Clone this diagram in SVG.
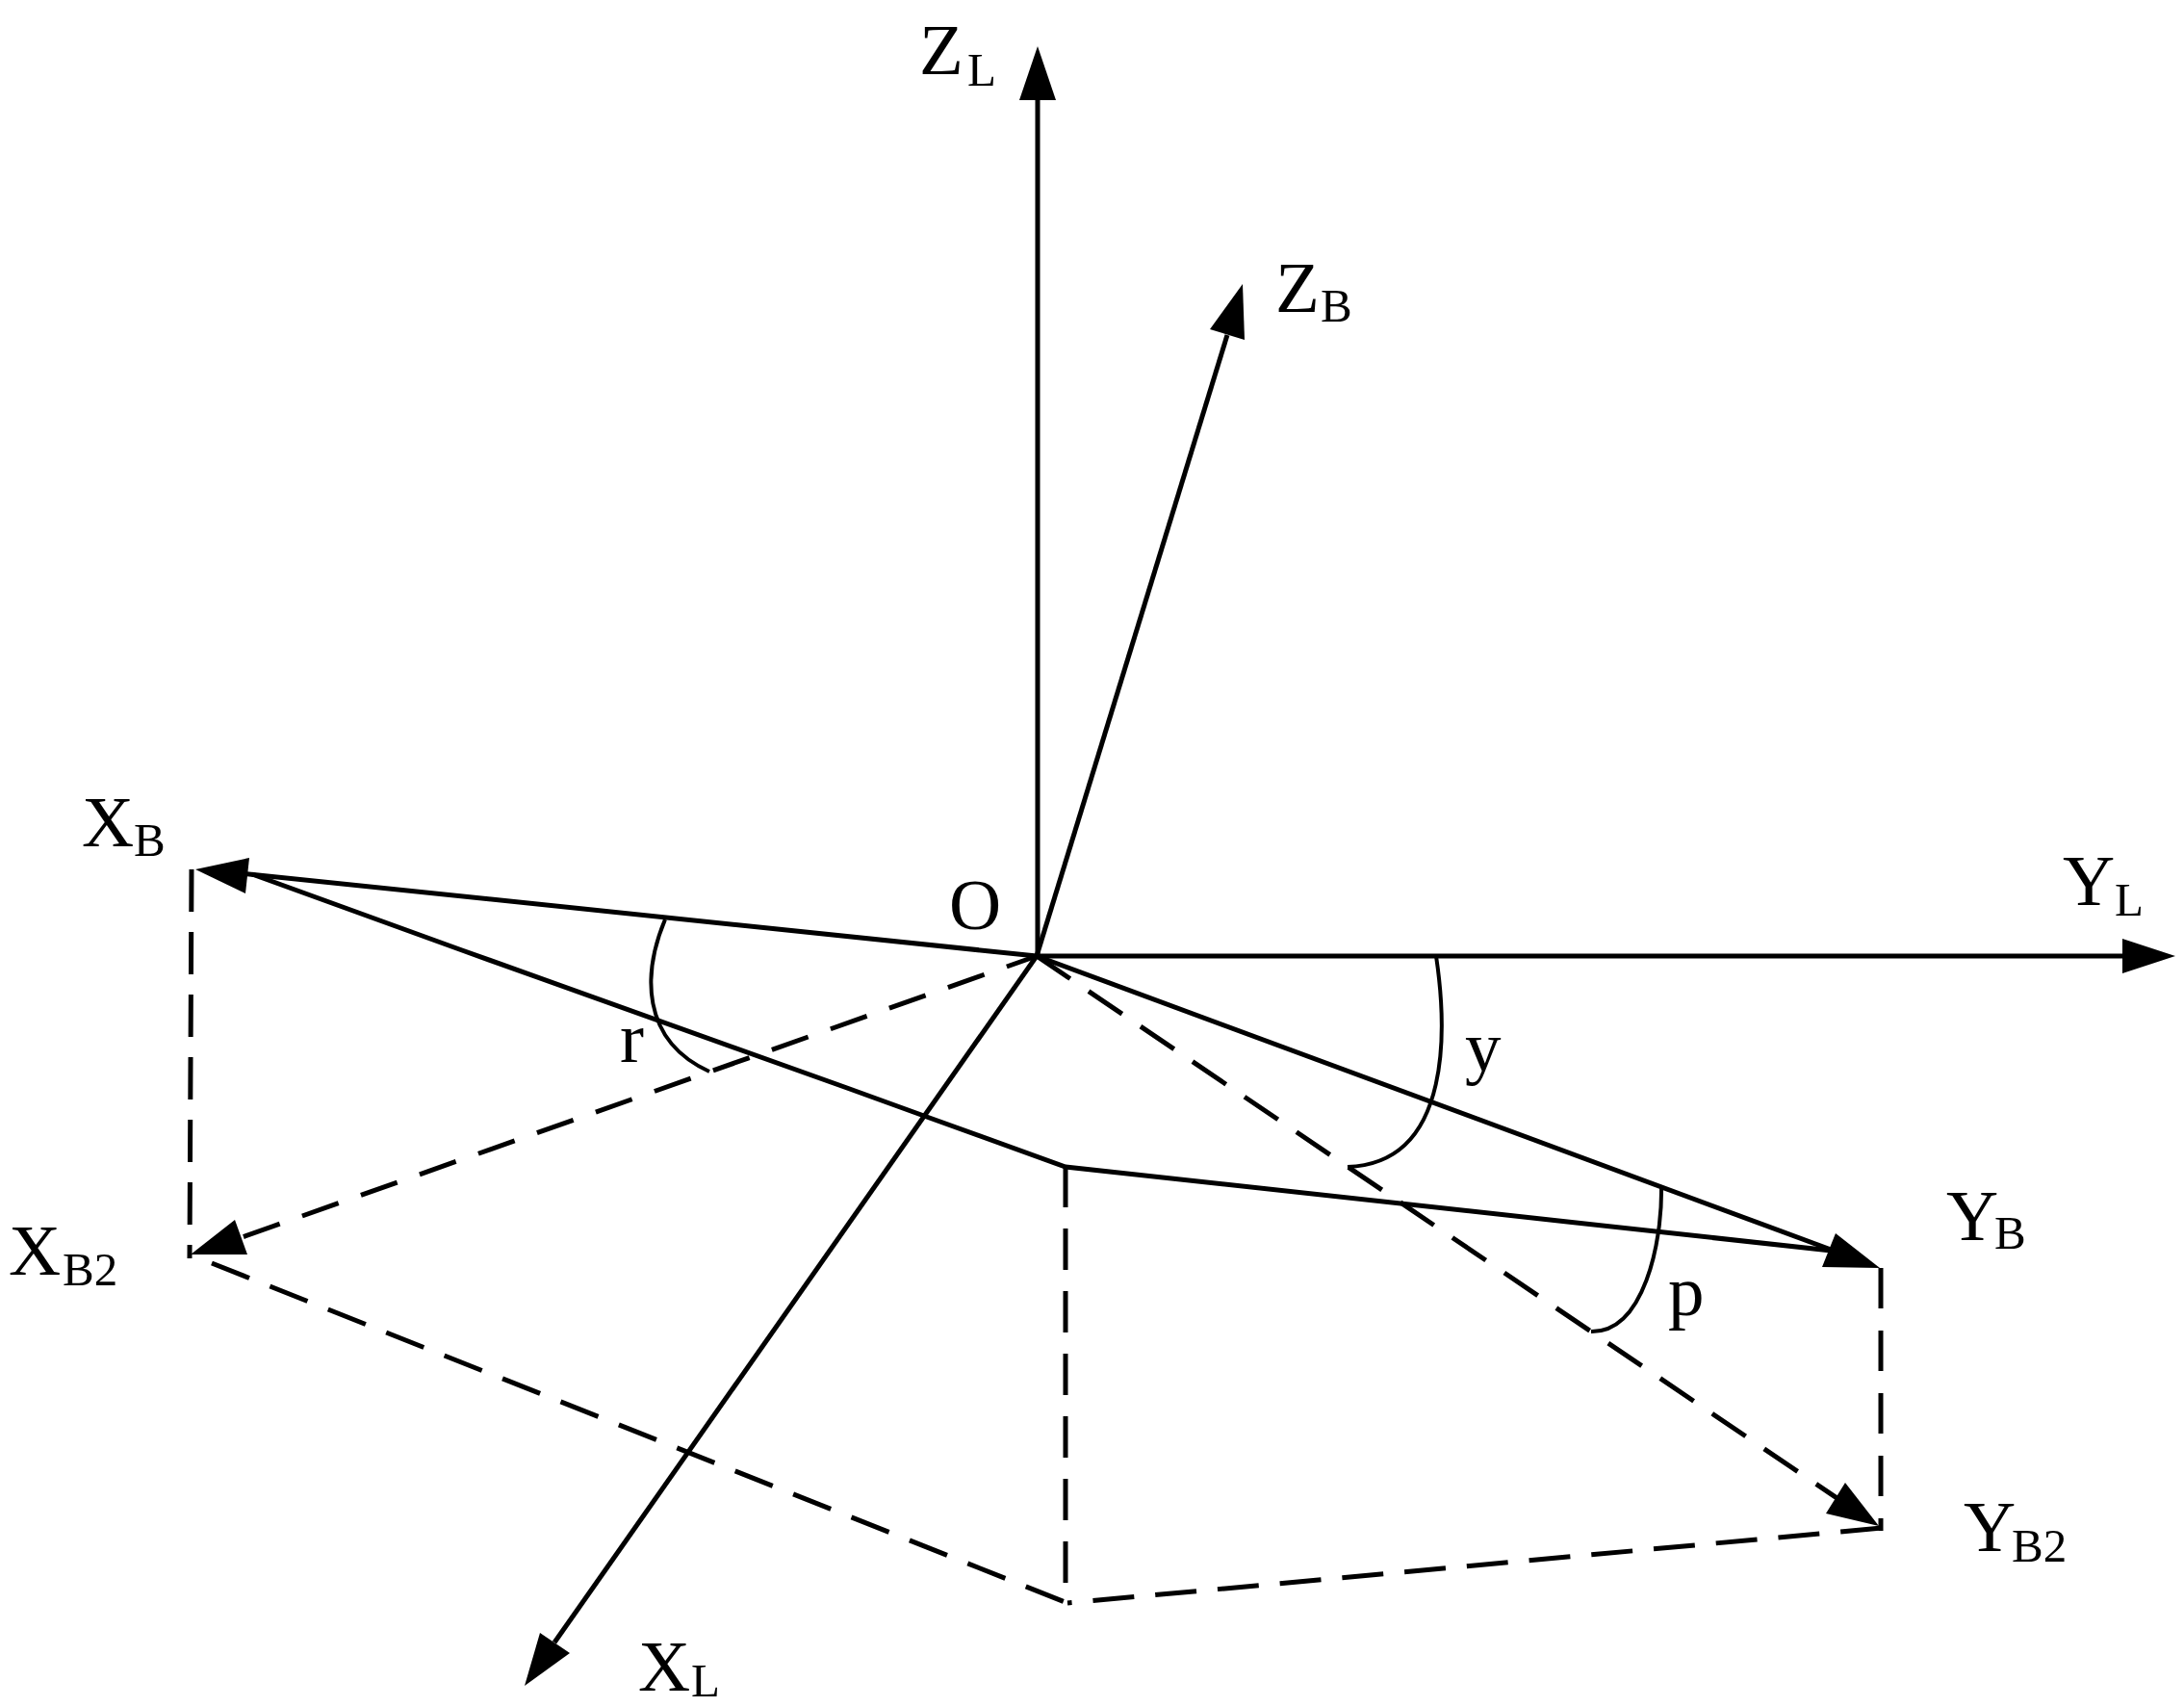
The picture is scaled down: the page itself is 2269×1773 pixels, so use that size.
<svg xmlns="http://www.w3.org/2000/svg" width="2269" height="1773" viewBox="0 0 2269 1773">
<style>
.l{fill:none;stroke:#000;stroke-width:5}
.d{fill:none;stroke:#000;stroke-width:5;stroke-dasharray:43 22}
.a{fill:none;stroke:#000;stroke-width:4}
.h{fill:#000;stroke:none}
text{font-family:"Liberation Serif","Times New Roman",serif;font-size:75px;fill:#000}
.s{font-size:49px}
</style>
<rect width="2269" height="1773" fill="#fff"/>
<g id="connectors">
<line class="l" x1="1078" y1="993" x2="1078" y2="100"/>
<polygon class="h" points="1078,48 1059,104 1097,104"/>
<line class="l" x1="1077" y1="993" x2="1275" y2="348"/>
<polygon class="h" points="1291,295 1257,342 1293,353"/>
<line class="l" x1="1077" y1="993" x2="2210" y2="993"/>
<polygon class="h" points="2260,993 2205,975 2205,1011"/>
<line class="l" x1="1077" y1="993" x2="250" y2="907"/>
<polygon class="h" points="203,903 259,891 255,928"/>
<line class="l" x1="1077" y1="993" x2="576" y2="1706"/>
<polygon class="h" points="545,1751 561,1696 592,1717"/>
<line class="l" x1="1077" y1="993" x2="1905" y2="1299"/>
<polyline class="l" points="262,908 480,987 880,1130 960,1159 1107,1212 1930,1302"/>
<polygon class="h" points="1953,1317 1907,1281 1893,1316"/>
<line class="d" style="stroke-dasharray:40 24.7;stroke-dashoffset:7" x1="1077" y1="993" x2="215" y2="1298"/>
<polygon class="h" points="198,1303 244,1267 257,1303"/>
<line class="d" style="stroke-dasharray:42 23.2" x1="1077" y1="993" x2="1935" y2="1574"/>
<polygon class="h" points="1952,1585 1917,1540 1897,1572"/>
<line class="d" style="stroke-dasharray:44 21" x1="199" y1="903" x2="197" y2="1307"/>
<line class="d" style="stroke-dasharray:42 23" x1="220" y1="1312" x2="1109" y2="1665"/>
<line class="d" x1="1107" y1="1211" x2="1107" y2="1665"/>
<line class="d" x1="1955" y1="1587" x2="1109" y2="1665"/>
<line class="d" style="stroke-dasharray:42 23" x1="1954" y1="1317" x2="1954" y2="1590"/>
<path class="a" d="M691,955 C668,1010 665,1080 737,1113"/>
<path class="a" d="M1492,993 C1502,1060 1512,1208 1400,1212"/>
<path class="a" d="M1726,1233 C1727,1290 1708,1384 1653,1383"/>
</g>
<g id="node-zl"><text x="955" y="77">Z<tspan class="s" x="1005" y="89">L</tspan></text></g>
<g id="node-zb"><text x="1325" y="324">Z<tspan class="s" x="1372" y="334">B</tspan></text></g>
<g id="node-xb"><text x="85" y="879">X<tspan class="s" x="139" y="889">B</tspan></text></g>
<g id="node-xb2"><text x="9" y="1324">X<tspan class="s" x="65" y="1335">B2</tspan></text></g>
<g id="node-o"><text x="986" y="965">O</text></g>
<g id="node-yl"><text x="2143" y="940">Y<tspan class="s" x="2197" y="951">L</tspan></text></g>
<g id="node-yb"><text x="2022" y="1288">Y<tspan class="s" x="2072" y="1297">B</tspan></text></g>
<g id="node-yb2"><text x="2040" y="1611">Y<tspan class="s" x="2090" y="1622">B2</tspan></text></g>
<g id="node-xl"><text x="663" y="1756">X<tspan class="s" x="718" y="1762">L</tspan></text></g>
<g id="node-r"><text x="644" y="1103">r</text></g>
<g id="node-y"><text x="1522" y="1112">y</text></g>
<g id="node-p"><text x="1733" y="1366">p</text></g>
</svg>
